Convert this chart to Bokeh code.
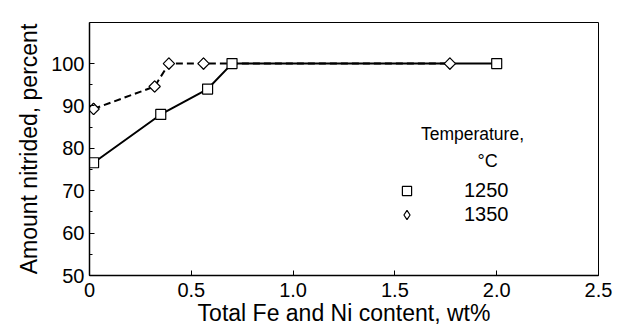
from bokeh.plotting import figure
from bokeh.models import FixedTicker, Range1d, Legend, LegendItem, Label
from bokeh.embed import file_html
from bokeh.resources import INLINE
import math

# ---- data ----
x_1250 = [0.02, 0.35, 0.58, 0.70, 2.00]
y_1250 = [76.6, 88.0, 94.0, 100.0, 100.0]
x_1350 = [0.02, 0.32, 0.39, 0.56, 1.77]
y_1350 = [89.3, 94.6, 100.0, 100.0, 100.0]

x_ticks = [0, 0.5, 1.0, 1.5, 2.0, 2.5]
x_tick_labels = ["0", "0.5", "1.0", "1.5", "2.0", "2.5"]
y_ticks = [50, 60, 70, 80, 90, 100]
y_minor = [55, 65, 75, 85, 95]

series_names = ["1250", "1350"]
legend_title = ["Temperature,", "°C"]
x_label = "Total Fe and Ni content, wt%"
y_label = "Amount nitrided, percent"

FONT = "Liberation Sans"

p = figure(width=617, height=328, output_backend="svg", toolbar_location=None,
           x_range=Range1d(0, 2.5), y_range=Range1d(50, 109.7),
           min_border_left=89, min_border_right=19, min_border_top=22, min_border_bottom=52)
p.background_fill_color = "white"
p.border_fill_color = "white"
p.outline_line_color = "black"
p.outline_line_width = 1
p.xgrid.visible = False
p.ygrid.visible = False

for ax in (p.xaxis[0], p.yaxis[0]):
    ax.axis_line_color = "black"
    ax.axis_line_width = 1.5
    ax.major_tick_line_color = "black"
    ax.major_tick_line_width = 1
    ax.major_tick_in = 5
    ax.major_tick_out = 0
    ax.minor_tick_in = 3
    ax.minor_tick_out = 0
    ax.major_label_text_font = FONT
    ax.major_label_text_font_size = "20px"
    ax.major_label_text_color = "black"
    ax.axis_label_text_font = FONT
    ax.axis_label_text_font_size = "23px"
    ax.axis_label_text_font_style = "normal"
    ax.axis_label_text_color = "black"

p.xaxis.ticker = FixedTicker(ticks=x_ticks)
p.xaxis.major_label_overrides = {t: l for t, l in zip(x_ticks, x_tick_labels)}
p.xaxis.minor_tick_line_color = None
p.xaxis.major_label_standoff = 7
p.xaxis.axis_label = x_label
p.xaxis.axis_label_standoff = 0

p.yaxis.ticker = FixedTicker(ticks=y_ticks, minor_ticks=y_minor)
p.yaxis.minor_tick_line_color = "black"
p.yaxis.major_label_standoff = 5
p.yaxis.axis_label = y_label
p.yaxis.axis_label_standoff = 6

# lines
p.line(x_1350, y_1350, line_color="black", line_width=2, line_dash="7 4")
p.line(x_1250, y_1250, line_color="black", line_width=2)

# markers
# diamond-marker renderer for 1350 (provides the legend swatch; hidden under the rotated squares)
r1350_key = p.scatter(x_1350, y_1350, marker="diamond", size=11, fill_color="white",
                      line_color="black", line_width=1.2)
r1250 = p.scatter(x_1250, y_1250, marker="square", size=10, fill_color="white",
                  line_color="black", line_width=1.2)
r1350 = p.scatter(x_1350, y_1350, marker="square", angle=math.pi / 4, size=8,
                  fill_color="white", line_color="black", line_width=1.2)

legend = Legend(items=[LegendItem(label=series_names[0], renderers=[r1250]),
                       LegendItem(label=series_names[1], renderers=[r1350_key])],
                location=(306, 49), orientation="vertical")
legend.background_fill_alpha = 0
legend.border_line_color = None
legend.padding = 0
legend.margin = 0
legend.spacing = 1
legend.glyph_width = 23
legend.glyph_height = 23
legend.label_height = 20
legend.label_standoff = 46
legend.label_text_font = FONT
legend.label_text_font_size = "20px"
legend.label_text_color = "black"
p.add_layout(legend, "center")

p.add_layout(Label(x=1.881, y=83.5, text=legend_title[0], text_align="center",
                   text_baseline="middle", text_font=FONT, text_font_size="17.5px",
                   text_color="black"))
p.add_layout(Label(x=1.955, y=77.1, text=legend_title[1], text_align="center",
                   text_baseline="middle", text_font=FONT, text_font_size="18px",
                   text_color="black"))

open("out.html", "w").write(file_html(p, INLINE))
